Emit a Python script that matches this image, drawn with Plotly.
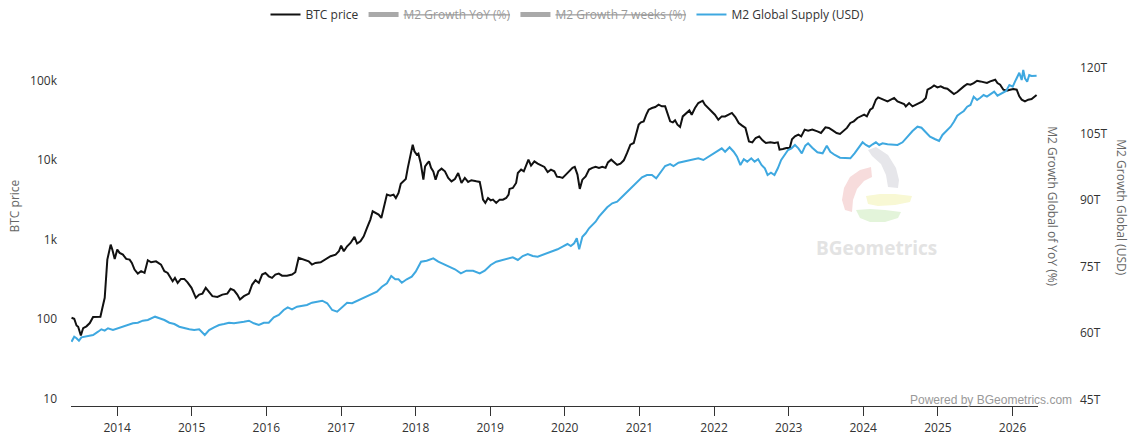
import numpy as np
import pandas as pd
import plotly.graph_objects as go

# ---------------- data ----------------
# BTC price (USD), time given as decimal years
btc_year = [
    2013.388, 2013.424, 2013.455, 2013.477, 2013.513, 2013.544, 2013.588, 2013.633, 2013.677, 2013.721,
    2013.775, 2013.797, 2013.833, 2013.868, 2013.891, 2013.913, 2013.935, 2013.967,
    2014.001, 2014.033, 2014.077, 2014.121, 2014.167, 2014.197, 2014.233, 2014.277, 2014.321, 2014.367,
    2014.411, 2014.455, 2014.521, 2014.588, 2014.633, 2014.677, 2014.744, 2014.775, 2014.811, 2014.855,
    2014.900, 2014.944, 2014.997,
    2015.055, 2015.100, 2015.144, 2015.188, 2015.233, 2015.277, 2015.344, 2015.411, 2015.477, 2015.521,
    2015.567, 2015.611, 2015.647, 2015.700, 2015.767, 2015.811, 2015.855, 2015.900, 2015.944, 2015.988,
    2016.033, 2016.077, 2016.121, 2016.167, 2016.211, 2016.277, 2016.344, 2016.388, 2016.433, 2016.477,
    2016.521, 2016.567, 2016.611, 2016.657, 2016.727, 2016.793, 2016.860, 2016.927, 2016.971,
    2017.001, 2017.037, 2017.081, 2017.127, 2017.180, 2017.215, 2017.260, 2017.304, 2017.348, 2017.393,
    2017.424, 2017.460, 2017.504, 2017.540, 2017.571, 2017.615, 2017.660, 2017.704, 2017.735, 2017.771,
    2017.801, 2017.847, 2017.868, 2017.895, 2017.927, 2017.961, 2017.984,
    2018.015, 2018.037, 2018.068, 2018.104, 2018.127, 2018.161, 2018.180, 2018.207, 2018.237, 2018.268,
    2018.304, 2018.348, 2018.393, 2018.437, 2018.481, 2018.527, 2018.571, 2018.615, 2018.660, 2018.704,
    2018.748, 2018.815, 2018.860, 2018.881, 2018.904, 2018.935, 2018.971,
    2019.007, 2019.037, 2019.081, 2019.127, 2019.171, 2019.215, 2019.247, 2019.260, 2019.304, 2019.348,
    2019.371, 2019.415, 2019.451, 2019.481, 2019.513, 2019.548, 2019.593, 2019.637, 2019.681, 2019.727,
    2019.771, 2019.815, 2019.860, 2019.895, 2019.927, 2019.971,
    2020.015, 2020.060, 2020.104, 2020.134, 2020.170, 2020.201, 2020.236, 2020.280, 2020.325, 2020.369,
    2020.413, 2020.458, 2020.502, 2020.546, 2020.578, 2020.622, 2020.657, 2020.701, 2020.745, 2020.790,
    2020.834, 2020.878, 2020.923, 2020.957, 2020.989,
    2021.020, 2021.056, 2021.091, 2021.123, 2021.167, 2021.211, 2021.256, 2021.300, 2021.344, 2021.376,
    2021.411, 2021.447, 2021.477, 2021.509, 2021.544, 2021.580, 2021.624, 2021.669, 2021.700, 2021.744,
    2021.789, 2021.847, 2021.877, 2021.923, 2021.967,
    2022.011, 2022.057, 2022.103, 2022.148, 2022.194, 2022.239, 2022.285, 2022.331, 2022.376, 2022.421,
    2022.468, 2022.513, 2022.558, 2022.605, 2022.650, 2022.695, 2022.755, 2022.810, 2022.855, 2022.878,
    2022.923, 2022.969,
    2023.015, 2023.045, 2023.085, 2023.131, 2023.169, 2023.215, 2023.261, 2023.317, 2023.386, 2023.434,
    2023.494, 2023.540, 2023.596, 2023.643, 2023.689, 2023.735, 2023.782, 2023.828, 2023.874, 2023.922,
    2023.968,
    2024.013, 2024.049, 2024.093, 2024.126, 2024.170, 2024.200, 2024.236, 2024.280, 2024.326, 2024.370,
    2024.414, 2024.459, 2024.503, 2024.547, 2024.570, 2024.614, 2024.660, 2024.704, 2024.748, 2024.793,
    2024.837, 2024.860, 2024.904, 2024.948, 2024.993,
    2025.037, 2025.081, 2025.126, 2025.170, 2025.214, 2025.259, 2025.303, 2025.347, 2025.392, 2025.436,
    2025.479, 2025.525, 2025.568, 2025.612, 2025.657, 2025.701, 2025.745, 2025.768, 2025.798, 2025.834,
    2025.878, 2025.923, 2025.967,
    2026.011, 2026.056, 2026.091, 2026.123, 2026.167, 2026.211, 2026.256, 2026.323,
]
btc_price = [
    104, 101, 83, 80, 62, 77, 81, 89, 106, 106,
    107, 132, 185, 560, 713, 865, 748, 571,
    748, 680, 647, 571, 560, 509, 420, 374, 400, 381,
    550, 518, 533, 485, 400, 381, 299, 330, 285, 320,
    320, 290, 247,
    185, 203, 209, 247, 217, 194, 190, 203, 209, 240,
    230, 203, 176, 194, 209, 272, 308, 285, 363, 381,
    345, 330, 363, 374, 352, 352, 363, 388, 589, 571,
    560, 533, 485, 509, 518, 560, 617, 647, 713,
    840, 713, 824, 908, 1081, 891, 952, 1101, 1403, 1786,
    2271, 2170, 2062, 1875, 2506, 3684, 3573, 3684, 3342, 3864,
    5059, 5683, 5800, 7988, 10660, 15680, 12910,
    11720, 12070, 9225, 5683, 8358, 9225, 9660, 7988, 7230, 5683,
    7230, 7820, 7230, 5970, 5410, 5800, 6900, 5165, 5970, 5320,
    5590, 5410, 5320, 4254, 3184, 2896, 3342,
    3120, 3184, 2896, 3184, 3184, 3342, 3684, 4345, 4470, 5165,
    6900, 7604, 7230, 8358, 10140, 8535, 9660, 9040, 8700, 8220,
    7100, 7604, 7230, 6200, 6150, 5970,
    6575, 7230, 7988, 8220, 6575, 4345, 5683, 6250, 7604, 7988,
    8220, 7988, 8220, 7988, 9380, 10140, 9380, 8700, 9040, 9950,
    12330, 15680, 16440, 21980, 27990,
    29900, 30790, 37340, 43150, 45290, 46640, 49890, 47550, 47550, 37340,
    30790, 29900, 31660, 27990, 26200, 35540, 39270, 42270, 37340, 45290,
    52360, 55980, 49890, 45290, 41100,
    37340, 32280, 35540, 35540, 37340, 39270, 34880, 29370, 27180, 25430,
    17220, 16750, 19010, 19910, 17740, 16440, 16750, 16440, 16750, 13550,
    13840, 14240,
    14240, 18300, 19910, 20950, 19910, 24220, 23510, 24220, 23010, 21980,
    25880, 25430, 23510, 21980, 21380, 23010, 25430, 29370, 30790, 33960,
    35540,
    37340, 35540, 43150, 45290, 57680, 61660, 59400, 57680, 54950, 57680,
    60560, 54950, 52360, 50910, 47550, 52360, 47550, 49890, 52360, 54950,
    60560, 77090, 80920, 87300, 82400,
    84760, 80920, 79250, 73350, 68020, 72060, 79250, 84760, 90780, 89130,
    93490, 100000, 97990, 96330, 93490, 97990, 100000, 103000, 93490, 89130,
    77090, 74870, 77090,
    78700, 77090, 63500, 57680, 54950, 57680, 58880, 66100,
]

# M2 global supply (trillions of USD), time given as decimal years
m2_year = [
    2013.388, 2013.424, 2013.455, 2013.487, 2013.521, 2013.567, 2013.611, 2013.677, 2013.744, 2013.788,
    2013.833, 2013.877, 2013.944,
    2014.011, 2014.077, 2014.144, 2014.211, 2014.277, 2014.344, 2014.411, 2014.477, 2014.508, 2014.567,
    2014.633, 2014.700, 2014.767, 2014.833, 2014.900, 2014.967,
    2015.033, 2015.100, 2015.175, 2015.233, 2015.300, 2015.367, 2015.433, 2015.500, 2015.567, 2015.633,
    2015.700, 2015.767, 2015.833, 2015.900, 2015.967,
    2016.033, 2016.100, 2016.167, 2016.233, 2016.287, 2016.344, 2016.411, 2016.477, 2016.544, 2016.611,
    2016.664, 2016.748, 2016.815, 2016.881, 2016.948,
    2017.015, 2017.081, 2017.148, 2017.237, 2017.327, 2017.415, 2017.481, 2017.548, 2017.615, 2017.673,
    2017.727, 2017.771, 2017.815, 2017.881, 2017.948,
    2018.001, 2018.037, 2018.073, 2018.148, 2018.237, 2018.304, 2018.371, 2018.437, 2018.527, 2018.607,
    2018.681, 2018.771, 2018.860, 2018.927,
    2019.007, 2019.081, 2019.171, 2019.237, 2019.304, 2019.371, 2019.437, 2019.504, 2019.571, 2019.637,
    2019.704, 2019.771, 2019.837, 2019.904, 2019.971,
    2020.037, 2020.081, 2020.126, 2020.161, 2020.193, 2020.236, 2020.280, 2020.325, 2020.369, 2020.413,
    2020.458, 2020.502, 2020.568, 2020.635, 2020.701, 2020.768, 2020.834, 2020.900, 2020.967,
    2021.033, 2021.100, 2021.167, 2021.224, 2021.277, 2021.344, 2021.411, 2021.456, 2021.523, 2021.589,
    2021.656, 2021.723, 2021.789, 2021.856, 2021.923, 2021.989,
    2022.057, 2022.103, 2022.148, 2022.208, 2022.263, 2022.308, 2022.353, 2022.399, 2022.445, 2022.499,
    2022.544, 2022.591, 2022.636, 2022.681, 2022.718, 2022.763, 2022.810, 2022.855, 2022.900, 2022.947,
    2022.992,
    2023.038, 2023.085, 2023.131, 2023.177, 2023.224, 2023.261, 2023.317, 2023.386, 2023.456, 2023.512,
    2023.559, 2023.619, 2023.689, 2023.759, 2023.828, 2023.884, 2023.944, 2023.992,
    2024.036, 2024.080, 2024.126, 2024.170, 2024.214, 2024.259, 2024.326, 2024.393, 2024.459, 2024.526,
    2024.593, 2024.660, 2024.726, 2024.780, 2024.837, 2024.894, 2024.957,
    2025.015, 2025.060, 2025.117, 2025.170, 2025.214, 2025.259, 2025.303, 2025.347, 2025.392, 2025.436,
    2025.479, 2025.525, 2025.568, 2025.612, 2025.657, 2025.701, 2025.754, 2025.798, 2025.857, 2025.914,
    2025.958,
    2026.003, 2026.033, 2026.064, 2026.091, 2026.123, 2026.144, 2026.167, 2026.197, 2026.224, 2026.256,
    2026.323,
]
m2_usd_t = [
    58.01, 59.14, 58.78, 58.24, 59.00, 59.14, 59.30, 59.53, 60.27, 60.81,
    60.50, 61.04, 60.65,
    61.04, 61.56, 61.78, 62.17, 62.30, 62.76, 62.91, 63.30, 63.66, 63.30,
    62.91, 62.30, 62.01, 61.40, 61.04, 60.81,
    60.65, 60.81, 59.53, 60.65, 61.26, 61.78, 62.01, 62.30, 62.17, 62.30,
    62.53, 62.76, 62.17, 61.78, 62.30,
    62.30, 63.52, 64.04, 65.17, 65.78, 65.33, 65.92, 66.08, 66.30, 66.82,
    67.00, 67.27, 66.69, 65.17, 64.79,
    65.92, 66.82, 66.69, 67.43, 68.18, 68.94, 69.31, 70.44, 71.21, 72.85,
    72.11, 72.11, 71.34, 72.11, 72.70,
    73.83, 75.11, 76.09, 76.31, 76.85, 76.09, 75.56, 75.11, 74.37, 73.46,
    74.05, 74.05, 73.46, 74.05,
    75.34, 76.09, 76.47, 76.85, 77.08, 76.47, 77.37, 77.82, 77.37, 77.22,
    77.60, 77.98, 78.34, 78.89, 79.47,
    80.08, 79.63, 80.24, 81.37, 78.89, 81.73, 82.50, 83.63, 84.37, 85.12,
    86.25, 87.15, 88.37, 89.28, 89.64, 90.77, 91.90, 93.03, 94.16,
    95.15, 95.67, 95.67, 94.92, 96.19, 97.70, 98.15, 97.70, 98.45, 98.68,
    98.90, 99.06, 99.44, 99.06, 99.80, 100.57,
    101.32, 101.70, 100.93, 101.93, 100.93, 99.80, 97.93, 99.22, 98.68, 99.44,
    98.68, 99.22, 97.93, 97.18, 95.67, 96.19, 95.67, 97.18, 99.06, 100.19,
    101.32,
    101.70, 102.45, 101.70, 100.57, 102.29, 102.83, 101.84, 100.80, 100.57, 102.29,
    100.93, 100.19, 99.58, 99.44, 99.44, 100.57, 102.06, 103.06,
    102.45, 102.06, 102.61, 103.06, 102.45, 102.83, 102.61, 102.45, 102.45, 103.06,
    104.32, 105.61, 106.58, 106.35, 105.32, 104.32, 103.80,
    103.35, 104.71, 105.61, 106.58, 107.71, 109.07, 109.61, 110.13, 111.10, 111.48,
    113.36, 112.61, 113.13, 113.74, 113.36, 113.90, 114.49, 113.58, 114.13, 114.65,
    116.00,
    115.62, 116.75, 117.74, 118.78, 117.13, 119.39, 117.51, 116.75, 118.26, 118.03,
    118.10,
]

# series hidden in the legend (nothing drawn for them)
m2_yoy_year, m2_yoy_pct = [None], [None]
m2_7w_year, m2_7w_pct = [None], [None]

btc_ticks = [10, 100, 1000, 10000, 100000]
btc_tick_text = ["10", "100", "1k", "10k", "100k"]
m2_ticks = [45, 60, 75, 90, 105, 120]
m2_tick_text = ["45T", "60T", "75T", "90T", "105T", "120T"]


def dec_year(v):
    y = int(np.floor(v))
    s = pd.Timestamp(year=y, month=1, day=1)
    e = pd.Timestamp(year=y + 1, month=1, day=1)
    return s + (e - s) * (v - y)


btc_dates = [dec_year(v) for v in btc_year]
m2_dates = [dec_year(v) for v in m2_year]

# ---------------- layout helpers ----------------
W, H = 1134, 441
L, R, T, B = 71, 96, 50, 35
PW = W - L - R
PH = H - T - B


def fx(px):
    return (px - L) / PW


def fy(py):
    return (H - B - py) / PH


def poly(points):
    return "M " + " L ".join(f"{fx(a):.5f},{fy(b):.5f}" for a, b in points) + " Z"


FONT = "Open Sans, Noto Sans, sans-serif"
BLUE = "#3ea8e0"

fig = go.Figure()
fig.add_trace(go.Scatter(x=btc_dates, y=btc_price, name="BTC price", mode="lines",
                         line=dict(color="#111111", width=2), yaxis="y"))
fig.add_trace(go.Scatter(x=m2_yoy_year, y=m2_yoy_pct, name="<s>M2 Growth YoY (%)</s>", mode="lines",
                         line=dict(color="#555555", width=5), visible="legendonly", yaxis="y"))
fig.add_trace(go.Scatter(x=m2_7w_year, y=m2_7w_pct, name="<s>M2 Growth 7 weeks (%)</s>", mode="lines",
                         line=dict(color="#555555", width=5), visible="legendonly", yaxis="y"))
fig.add_trace(go.Scatter(x=m2_dates, y=m2_usd_t, name="M2 Global Supply (USD)", mode="lines",
                         line=dict(color=BLUE, width=2), yaxis="y2"))

# watermark logo (faint blades) and text
logo = [
    ([(876, 147), (888, 155), (896, 168), (899, 180), (898, 188), (888, 187), (886, 175), (881, 164),
      (872, 156), (868, 150)], "#e6e6ea"),
    ([(871, 167), (860, 170), (850, 177), (844, 188), (842, 200), (845, 210), (852, 212), (853, 200),
      (857, 189), (864, 181), (872, 177)], "#f7dcdc"),
    ([(866, 196), (880, 194), (895, 194), (912, 196), (910, 202), (895, 205), (878, 206), (868, 204)],
     "#f8f8d4"),
    ([(856, 210), (870, 209), (885, 210), (901, 212), (898, 218), (885, 222), (870, 222), (860, 218)],
     "#e3f4da"),
]
shapes = [dict(type="path", xref="paper", yref="paper", path=poly(p), fillcolor=c,
               line=dict(width=0), layer="below") for p, c in logo]


def ann(text, px, py, size=12, color="#666666", angle=0, xanchor="center", family=FONT):
    return dict(text=text, x=fx(px), y=fy(py), xref="paper", yref="paper", textangle=angle,
                xanchor=xanchor, yanchor="middle", showarrow=False,
                font=dict(family=family, size=size, color=color))


annotations = [
    ann("BTC price", 13.5, 206, angle=-90),
    ann("M2 Growth Global of YoY (%)", 1052.3, 206.5, angle=90),
    ann("M2 Growth Global (USD)", 1121.7, 207, angle=90),
    ann("Powered by BGeometrics.com", 1074, 400, color="#999999", xanchor="right",
        family="Liberation Sans, Arial, sans-serif"),
    ann("<b>BGeometrics</b>", 876, 248, size=19, color="#e3e3e3"),
]

fig.update_layout(
    width=W, height=H,
    margin=dict(l=L, r=R, t=T, b=B, pad=0, autoexpand=False),
    paper_bgcolor="white", plot_bgcolor="white",
    font=dict(family=FONT, size=12, color="#333333"),
    showlegend=True,
    legend=dict(orientation="h", x=fx(567.5), xanchor="center", y=1.0, yref="container",
                yanchor="top", font=dict(family=FONT, size=12, color="#333333"),
                bgcolor="rgba(0,0,0,0)", itemwidth=30),
    xaxis=dict(type="date", range=[dec_year(2013.3808), dec_year(2026.3418)], automargin=False,
               showgrid=False, zeroline=False, showline=True, linecolor="#333333", linewidth=1,
               ticks="outside", ticklen=9, tickcolor="#333333", tickwidth=1,
               tick0="2014-01-01", dtick="M12", tickformat="%Y", ticklabelstandoff=2,
               tickfont=dict(family=FONT, size=12, color="#333333")),
    yaxis=dict(type="log", range=[0.9056, 5.3864], automargin=False, showgrid=False,
               zeroline=False, showline=False,
               tickmode="array", tickvals=btc_ticks, ticktext=btc_tick_text, ticks="",
               ticklabelstandoff=13, tickfont=dict(family=FONT, size=12, color="#333333")),
    yaxis2=dict(overlaying="y", side="right", range=[43.486, 123.908], automargin=False,
                showgrid=False, zeroline=False, showline=False, tickmode="array",
                tickvals=m2_ticks, ticktext=m2_tick_text, ticks="", ticklabelstandoff=41,
                tickfont=dict(family=FONT, size=12, color="#333333")),
    shapes=shapes,
    annotations=annotations,
)

fig.write_html("out.html")
